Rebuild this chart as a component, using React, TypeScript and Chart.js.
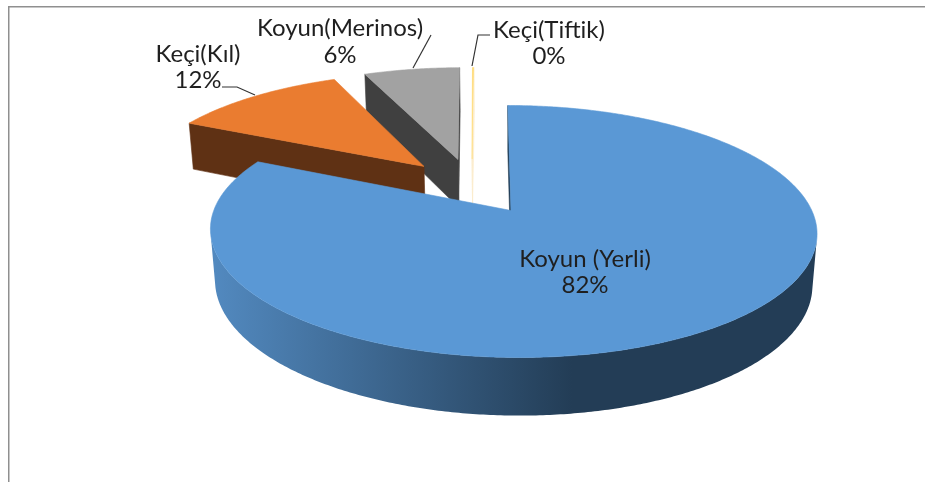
import React, { useEffect, useRef } from "react";
import { Chart, registerables } from "chart.js";

Chart.register(...registerables);

const categories = ["Koyun (Yerli)", "Keçi(Kıl)", "Koyun(Merinos)", "Keçi(Tiftik)"];
const values = [82.0, 11.55, 6.35, 0.1];
const topColors = ["#5a98d5", "#ea7c30", "#a2a2a2", "#ffdd80"];
const faceColors = ["#1f3a52", "#5f3114", "#404040", "#fbeccd"];
const wallColors = ["#23405a", "#5f3114", "#404040", "#fbeccd"];

const EXPLODE_PX = 52.6;

// projection of the tilted disc; every slice leans very slightly differently in the source picture
const ORIGIN_Y = 210.5;
const ORIGIN_X = [512.76, 510.5, 510.5, 510.5];
const APEX_NUDGE_X = [-1.8, 0, 0, 0];
const SKEW = [0.047, 0.04, 0.04, 0.033];
const P = 1 / 6;
const A = 122.5;
const B = 299;
const D = 51.5;
const Q = 0.015;
const project = (slice: number, u: number, v: number, z: number) => {
  const w = 1 - P * v + Q * z;
  const dy = (A * v + D * z) / w;
  const dyTop = (A * v) / (1 - P * v);
  return { x: ORIGIN_X[slice] + (B * u) / w + SKEW[slice] * dyTop, y: ORIGIN_Y + dy };
};

type Pt = { x: number; y: number };
const area = (pts: Pt[]) => {
  let s = 0;
  pts.forEach((p, i) => {
    const n = pts[(i + 1) % pts.length];
    s += p.x * n.y - n.x * p.y;
  });
  return s / 2;
};
const fillPoly = (ctx: CanvasRenderingContext2D, pts: Pt[], fill: any, hair = 0.6) => {
  ctx.beginPath();
  pts.forEach((p, i) => (i ? ctx.lineTo(p.x, p.y) : ctx.moveTo(p.x, p.y)));
  ctx.closePath();
  ctx.fillStyle = fill;
  ctx.fill();
  if (hair > 0) {
    ctx.strokeStyle = fill;
    ctx.lineWidth = hair;
    ctx.stroke();
  }
};

const pie3d = {
  id: "pie3d",
  beforeDatasetsDraw(chart: any) {
    const ctx: CanvasRenderingContext2D = chart.ctx;
    const arcs = chart.getDatasetMeta(0).data;
    const mid = (a: any) => (a.startAngle + a.endAngle) / 2;
    const e0 = arcs[0].options.offset / arcs[0].outerRadius;
    const cu0 = -e0 * Math.cos(mid(arcs[0]));
    const cv0 = -e0 * Math.sin(mid(arcs[0]));

    const grad = ctx.createLinearGradient(214, 0, 572, 0);
    grad.addColorStop(0, "#5289bf");
    grad.addColorStop(1, "#233d56");

    for (let i = arcs.length - 1; i >= 0; i--) {
      const arc = arcs[i];
      const e = arc.options.offset / arc.outerRadius;
      const cu = cu0 + e * Math.cos(mid(arc));
      const cv = cv0 + e * Math.sin(mid(arc));
      const rim = (a: number, z: number) => project(i, cu + Math.cos(a), cv + Math.sin(a), z);
      const apex = (z: number) => {
        const p = project(i, cu, cv, z);
        return { x: p.x + APEX_NUDGE_X[i], y: p.y };
      };
      const { startAngle: s, endAngle: t } = arc;
      const thin = t - s < 0.05;

      const startFace = [apex(0), rim(s, 0), rim(s, 1), apex(1)];
      const endFace = [rim(t, 0), apex(0), apex(1), rim(t, 1)];
      if (area(startFace) < 0) fillPoly(ctx, startFace, faceColors[i]);
      if (area(endFace) < 0) fillPoly(ctx, endFace, faceColors[i]);

      const steps = Math.max(2, Math.ceil((t - s) / 0.01));
      const wall = i === 0 ? grad : wallColors[i];
      let upper: Pt[] = [];
      let lower: Pt[] = [];
      const flush = () => {
        if (upper.length) fillPoly(ctx, [...upper, ...lower.reverse()], wall, 0);
        upper = [];
        lower = [];
      };
      for (let k = 0; k < steps; k++) {
        const a1 = s + ((t - s) * k) / steps;
        const a2 = s + ((t - s) * (k + 1)) / steps;
        const q = [rim(a1, 0), rim(a2, 0), rim(a2, 1), rim(a1, 1)];
        if (area(q) < 0) {
          if (!upper.length) {
            upper.push(q[0]);
            lower.push(q[3]);
          }
          upper.push(q[1]);
          lower.push(q[2]);
        } else flush();
      }
      flush();

      const top: Pt[] = [apex(0)];
      for (let k = 0; k <= steps; k++) top.push(rim(s + ((t - s) * k) / steps, 0));
      fillPoly(ctx, top, topColors[i], thin ? 0 : 0.6);
      if (thin) {
        ctx.strokeStyle = topColors[i];
        ctx.lineWidth = 1;
        ctx.beginPath();
        ctx.moveTo(top[0].x, top[0].y);
        ctx.lineTo(top[1].x, top[1].y);
        ctx.stroke();
        ctx.strokeStyle = faceColors[i];
        ctx.beginPath();
        ctx.moveTo(top[0].x, top[0].y);
        const b = apex(1);
        ctx.lineTo(b.x, b.y);
        ctx.stroke();
      }
    }
    return false;
  },
  afterDraw(chart: any) {
    const ctx: CanvasRenderingContext2D = chart.ctx;
    ctx.save();
    // frame
    ctx.strokeStyle = "#8f8f8f";
    ctx.lineWidth = 1.5;
    ctx.beginPath();
    ctx.moveTo(8.75, 482);
    ctx.lineTo(8.75, 6.75);
    ctx.lineTo(925, 6.75);
    ctx.stroke();
    // leader lines
    ctx.strokeStyle = "#333333";
    ctx.lineWidth = 1.2;
    const leaders = [
      [[222, 87], [237, 87], [255, 95]],
      [[431, 35], [413, 68]],
      [[490, 35], [478, 35], [472, 66]],
    ];
    leaders.forEach((l) => {
      ctx.beginPath();
      l.forEach(([x, y], i) => (i ? ctx.lineTo(x, y) : ctx.moveTo(x, y)));
      ctx.stroke();
    });
    // labels
    ctx.fillStyle = "#1f1f1f";
    ctx.font = '24px Lato, "Open Sans", sans-serif';
    ctx.textAlign = "center";
    ctx.textBaseline = "middle";
    const total = values.reduce((a, b) => a + b, 0);
    const pos = [
      [585, 259, 285],
      [198, 54, 80],
      [340, 28, 55],
      [549, 30, 56],
    ];
    categories.forEach((c, i) => {
      const [x, y1, y2] = pos[i];
      ctx.fillText(c, x, y1);
      ctx.fillText(`${Math.round((values[i] / total) * 100)}%`, x, y2);
    });
    ctx.restore();
  },
};

export default function App() {
  const ref = useRef<HTMLCanvasElement>(null);
  useEffect(() => {
    const chart = new Chart(ref.current!, {
      type: "pie",
      data: {
        labels: categories,
        datasets: [{ data: values, backgroundColor: topColors, borderWidth: 0, offset: EXPLODE_PX }],
      },
      options: {
        animation: false,
        responsive: false,
        layout: { padding: 0 },
        plugins: { legend: { display: false }, tooltip: { enabled: false } },
      },
      plugins: [pie3d],
    } as any);
    return () => chart.destroy();
  }, []);
  return (
    <canvas
      ref={ref}
      width={925}
      height={482}
      style={{ position: "absolute", left: 0, top: 0, display: "block", background: "#fff" }}
    />
  );
}
